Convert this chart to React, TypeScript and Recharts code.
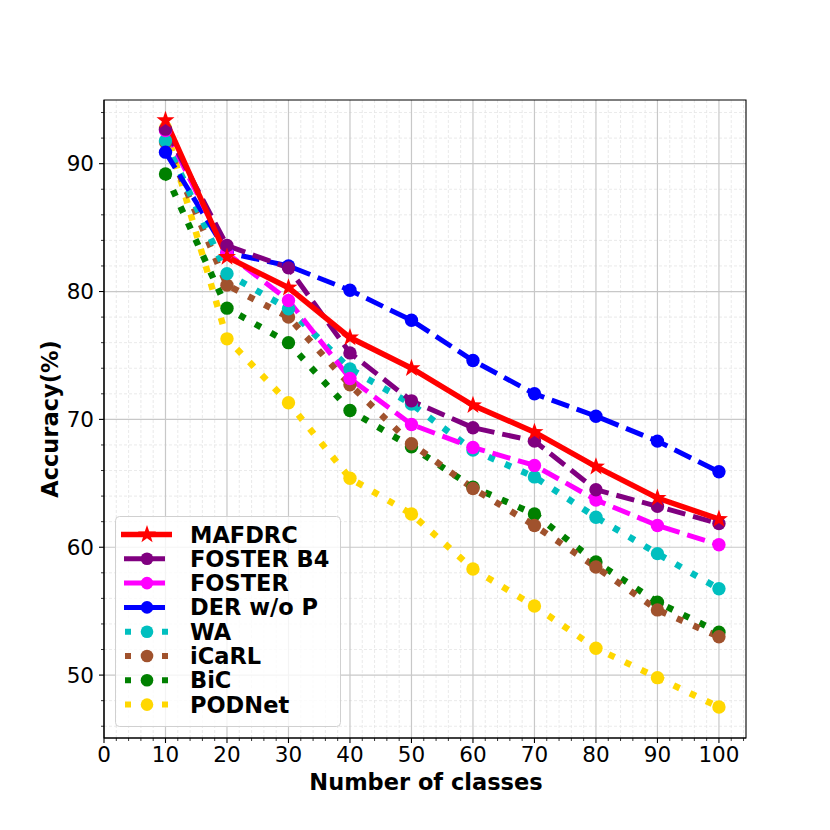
import React from 'react';
import { LineChart, Line, XAxis, YAxis, CartesianGrid, Legend, ReferenceArea } from 'recharts';

// number of classes seen so far
const CLASSES = [10, 20, 30, 40, 50, 60, 70, 80, 90, 100];

// accuracy (%) per method
const MAFDRC = [93.4, 82.7, 80.3, 76.4, 74.0, 71.1, 69.0, 66.3, 63.85, 62.2];
const FOSTER_B4 = [92.7, 83.6, 81.85, 75.2, 71.45, 69.35, 68.3, 64.5, 63.2, 61.85];
const FOSTER = [92.6, 83.0, 79.3, 73.2, 69.6, 67.8, 66.4, 63.7, 61.7, 60.2];
const DER = [90.9, 83.05, 82.0, 80.1, 77.75, 74.6, 72.0, 70.25, 68.3, 65.9];
const WA = [91.8, 81.4, 78.65, 73.95, 71.2, 67.6, 65.5, 62.35, 59.5, 56.75];
const ICARL = [91.7, 80.5, 78.0, 72.7, 68.1, 64.6, 61.7, 58.45, 55.1, 53.0];
const BIC = [89.2, 78.7, 76.0, 70.7, 67.85, 64.7, 62.6, 58.85, 55.7, 53.35];
const PODNET = [92.8, 76.3, 71.3, 65.4, 62.6, 58.3, 55.4, 52.1, 49.8, 47.5];

// tick labels
const X_TICKS = [0, 2, 4, 6, 8, 10, 12, 14, 16, 18, 20, 22, 24, 26, 28, 30, 32, 34, 36, 38, 40, 42, 44, 46, 48, 50,
  52, 54, 56, 58, 60, 62, 64, 66, 68, 70, 72, 74, 76, 78, 80, 82, 84, 86, 88, 90, 92, 94, 96, 98, 100, 102, 104];
const X_MAJOR = [0, 10, 20, 30, 40, 50, 60, 70, 80, 90, 100];
const Y_TICKS = [46, 48, 50, 52, 54, 56, 58, 60, 62, 64, 66, 68, 70, 72, 74, 76, 78, 80, 82, 84, 86, 88, 90, 92, 94];
const Y_MAJOR = [50, 60, 70, 80, 90];

const X_DOMAIN = [0, 104.4];
const Y_DOMAIN = [45.08, 94.98];

const FONT = '"DejaVu Sans", sans-serif';

const SERIES = [
  { key: 'podnet', name: 'PODNet', values: PODNET, color: '#ffd700', style: 'dotted' },
  { key: 'bic', name: 'BiC', values: BIC, color: '#008000', style: 'dotted' },
  { key: 'icarl', name: 'iCaRL', values: ICARL, color: '#a0522d', style: 'dotted' },
  { key: 'wa', name: 'WA', values: WA, color: '#00bfbf', style: 'dotted' },
  { key: 'der', name: 'DER w/o P', values: DER, color: '#0000ff', style: 'dashed' },
  { key: 'foster', name: 'FOSTER', values: FOSTER, color: '#ff00ff', style: 'dashed' },
  { key: 'fosterb4', name: 'FOSTER B4', values: FOSTER_B4, color: '#800080', style: 'dashed' },
  { key: 'mafdrc', name: 'MAFDRC', values: MAFDRC, color: '#ff0000', style: 'solid' },
];

const data = CLASSES.map((c, i) => {
  const row: Record<string, number> = { classes: c };
  SERIES.forEach((s) => {
    row[s.key] = s.values[i];
  });
  return row;
});

const starPath = (cx: number, cy: number, R: number, r: number) => {
  let d = '';
  for (let i = 0; i < 10; i++) {
    const rad = i % 2 === 0 ? R : r;
    const a = -Math.PI / 2 + (i * Math.PI) / 5;
    d += (i === 0 ? 'M' : 'L') + (cx + rad * Math.cos(a)).toFixed(2) + ' ' + (cy + rad * Math.sin(a)).toFixed(2);
  }
  return d + 'Z';
};

const lineStyle = (style: string) => {
  if (style === 'dotted') return { strokeWidth: 6.5, strokeDasharray: '6.5 11.5' };
  if (style === 'dashed') return { strokeWidth: 5, strokeDasharray: '18.5 8' };
  return { strokeWidth: 5.5, strokeDasharray: undefined };
};

const XTick = (props: any) => {
  const { x, y, payload } = props;
  const v = payload.value;
  const major = X_MAJOR.includes(v);
  return (
    <g>
      <line x1={x} x2={x} y1={y} y2={y + (major ? 5 : 3)} stroke="#000" strokeWidth={major ? 1.1 : 0.8} />
      {major && (
        <text x={x} y={y + 24} textAnchor="middle" fontSize={21.5} fontFamily={FONT} fill="#000">
          {v}
        </text>
      )}
    </g>
  );
};

const YTick = (props: any) => {
  const { x, y, payload } = props;
  const v = payload.value;
  const major = Y_MAJOR.includes(v);
  return (
    <g>
      <line x1={x} x2={x - (major ? 5 : 3)} y1={y} y2={y} stroke="#000" strokeWidth={major ? 1.1 : 0.8} />
      {major && (
        <text x={x - 10} y={y + 7.8} textAnchor="end" fontSize={21.5} fontFamily={FONT} fill="#000">
          {v}
        </text>
      )}
    </g>
  );
};

const LEGEND_ORDER = ['mafdrc', 'fosterb4', 'foster', 'der', 'wa', 'icarl', 'bic', 'podnet'];

const LegendBox = () => (
  <svg width={227} height={212} style={{ display: 'block' }}>
    <rect x={0.5} y={0.5} width={225} height={210} rx={4} fill="#fff" fillOpacity={0.8} stroke="#d0d0d0" />
    {LEGEND_ORDER.map((k, i) => {
      const s = SERIES.find((e) => e.key === k)!;
      const cy = 18.5 + i * 24.3;
      let handle;
      if (s.style === 'solid') {
        handle = (
          <g>
            <line x1={6} x2={57} y1={cy} y2={cy} stroke={s.color} strokeWidth={5.5} />
            <path d={starPath(32, cy, 9.5, 3.8)} fill={s.color} />
          </g>
        );
      } else if (s.style === 'dashed') {
        handle = (
          <g>
            <line x1={9} x2={50} y1={cy} y2={cy} stroke={s.color} strokeWidth={5} />
            <circle cx={32} cy={cy} r={6.3} fill={s.color} />
          </g>
        );
      } else {
        handle = (
          <g>
            <line x1={10} x2={53} y1={cy} y2={cy} stroke={s.color} strokeWidth={6} strokeDasharray="6 31" />
            <circle cx={32} cy={cy} r={6.3} fill={s.color} />
          </g>
        );
      }
      return (
        <g key={k}>
          {handle}
          <text x={75} y={cy + 8} fontSize={22.5} fontWeight="bold" fontFamily={FONT} fill="#000">
            {s.name}
          </text>
        </g>
      );
    })}
  </svg>
);

export default function App() {
  return (
    <div style={{ position: 'absolute', left: 0, top: 0, width: 830, height: 830, background: '#fff' }}>
      <LineChart width={830} height={830} data={data} margin={{ top: 100, right: 84, bottom: 0, left: 0 }}>
        <CartesianGrid
          verticalValues={X_TICKS.filter((v) => !X_MAJOR.includes(v))}
          horizontalValues={Y_TICKS.filter((v) => !Y_MAJOR.includes(v))}
          stroke="#e4e4e4"
          strokeDasharray="3 2"
          strokeWidth={0.8}
        />
        <CartesianGrid
          verticalValues={X_MAJOR.filter((v) => v !== 0)}
          horizontalValues={Y_MAJOR}
          stroke="#c8c8c8"
          strokeWidth={1.2}
        />
        <XAxis
          dataKey="classes"
          type="number"
          domain={X_DOMAIN}
          ticks={X_TICKS}
          interval={0}
          allowDataOverflow
          height={92}
          tickSize={0}
          tickMargin={0}
          tickLine={false}
          axisLine={{ stroke: '#000', strokeWidth: 1.1 }}
          tick={<XTick />}
          label={{
            content: () => (
              <text x={426} y={790} textAnchor="middle" fontSize={22.5} fontWeight="bold" fontFamily={FONT} fill="#000">
                Number of classes
              </text>
            ),
          }}
        />
        <YAxis
          type="number"
          domain={Y_DOMAIN}
          ticks={Y_TICKS}
          interval={0}
          allowDataOverflow
          width={104}
          tickSize={0}
          tickMargin={0}
          tickLine={false}
          axisLine={{ stroke: '#000', strokeWidth: 1.1 }}
          tick={<YTick />}
          label={{
            content: () => (
              <text
                x={58}
                y={419}
                transform="rotate(-90 58 419)"
                textAnchor="middle"
                fontSize={22.5}
                fontWeight="bold"
                fontFamily={FONT}
                fill="#000"
              >
                Accuracy(%)
              </text>
            ),
          }}
        />
        <ReferenceArea
          x1={X_DOMAIN[0]}
          x2={X_DOMAIN[1]}
          y1={Y_DOMAIN[0]}
          y2={Y_DOMAIN[1]}
          fill="none"
          stroke="#000"
          strokeWidth={1.1}
          ifOverflow="visible"
        />
        {SERIES.map((s) => {
          const ls = lineStyle(s.style);
          return (
            <Line
              key={s.key}
              dataKey={s.key}
              name={s.name}
              type="linear"
              stroke={s.color}
              strokeWidth={ls.strokeWidth}
              strokeDasharray={ls.strokeDasharray}
              isAnimationActive={false}
              activeDot={false}
              dot={(p: any) =>
                s.style === 'solid' ? (
                  <path key={`${s.key}-${p.index}`} d={starPath(p.cx, p.cy, 9.5, 3.8)} fill={s.color} />
                ) : (
                  <circle key={`${s.key}-${p.index}`} cx={p.cx} cy={p.cy} r={6.7} fill={s.color} />
                )
              }
            />
          );
        })}
        <Legend
          layout="vertical"
          align="center"
          verticalAlign="middle"
          content={() => <LegendBox />}
          wrapperStyle={{ position: 'absolute', left: 115, top: 516, width: 227, height: 212 }}
        />
      </LineChart>
    </div>
  );
}
